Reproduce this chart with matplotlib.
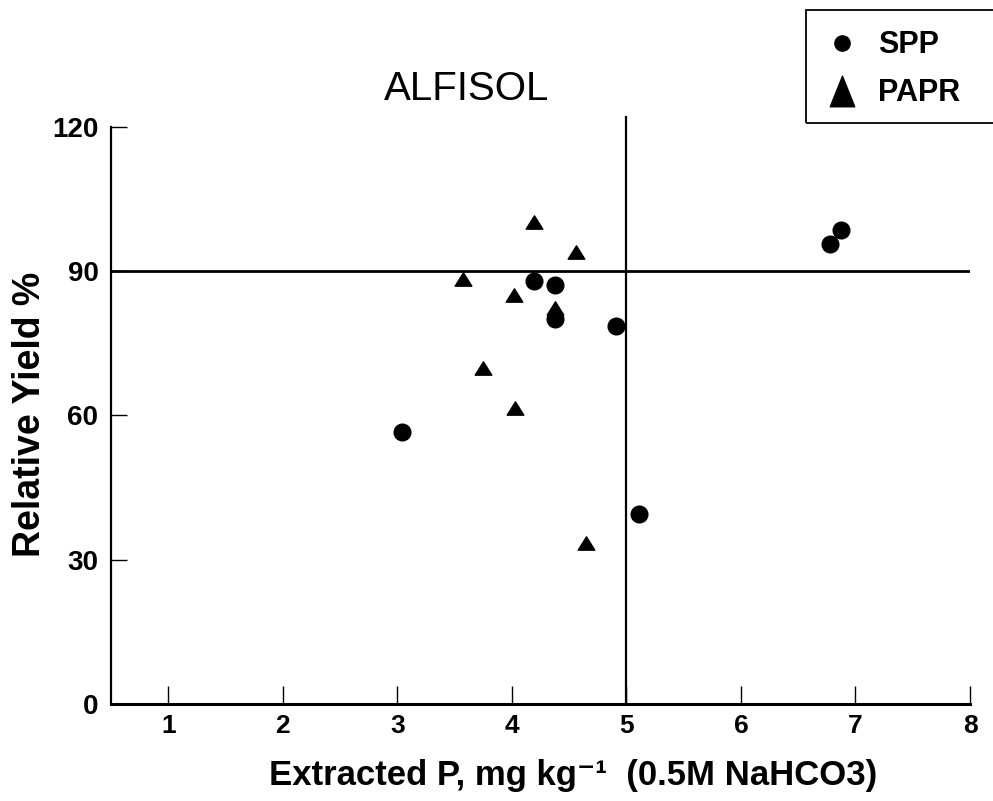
import matplotlib
matplotlib.use("Agg")
import matplotlib.pyplot as plt
from matplotlib import font_manager
from matplotlib.path import Path
from matplotlib.lines import Line2D
from matplotlib.patches import Rectangle

# ---- data ----
spp_x = [4.19, 4.38, 4.38, 4.91, 3.04, 5.11, 6.78, 6.87]
spp_y = [87.9, 87.0, 80.0, 78.5, 56.5, 39.5, 95.6, 98.6]
papr_x = [4.19, 4.56, 3.57, 4.02, 3.75, 4.03, 4.38, 4.65]
papr_y = [100.1, 94.0, 88.3, 85.1, 69.9, 61.5, 82.3, 33.4]
x_ticks = [1, 2, 3, 4, 5, 6, 7, 8]
y_ticks = [0, 30, 60, 90, 120]
critical_x = 5
critical_y = 90
series_labels = ["SPP", "PAPR"]
title_text = "ALFISOL"
x_label = "Extracted P, mg kg\u207b\u00b9  (0.5M NaHCO3)"
y_label = "Relative Yield %"

names = {f.name for f in font_manager.fontManager.ttflist}
narrow = "Liberation Sans Narrow" if "Liberation Sans Narrow" in names else "Liberation Sans"
plt.rcParams["font.family"] = ["Liberation Sans", "DejaVu Sans"]

W, H = 993, 801
fig = plt.figure(figsize=(W / 100, H / 100), dpi=100)
ax = fig.add_axes([111 / W, 1 - 704 / H, (970 - 111) / W, (704 - 126.7) / H])

tri = Path([(-1, -0.8), (1, -0.8), (0, 0.8), (-1, -0.8)],
           [Path.MOVETO, Path.LINETO, Path.LINETO, Path.CLOSEPOLY])
tri_leg = Path([(-0.8, -1), (0.8, -1), (0, 1), (-0.8, -1)],
               [Path.MOVETO, Path.LINETO, Path.LINETO, Path.CLOSEPOLY])

ax.plot(spp_x, spp_y, linestyle="none", marker="o", ms=12, color="black", zorder=3)
ax.plot(papr_x, papr_y, linestyle="none", marker=tri, ms=12, color="black", zorder=3)

ax.axhline(critical_y, color="black", lw=2.0, zorder=2)
ax.plot([critical_x, critical_x], [0, 122], color="black", lw=1.6, clip_on=False, zorder=2)

ax.set_xlim(0.5, 8.0)
ax.set_ylim(0, 120)
ax.set_xticks(x_ticks)
ax.set_yticks(y_ticks)
ax.spines["top"].set_visible(False)
ax.spines["right"].set_visible(False)
ax.spines["bottom"].set_linewidth(2.2)
ax.spines["left"].set_linewidth(1.6)
ax.tick_params(axis="x", direction="in", length=13, width=1.0, pad=7)
ax.tick_params(axis="y", direction="in", length=11.5, width=1.0, pad=9)
for lab in ax.get_xticklabels():
    lab.set_fontfamily(narrow)
    lab.set_fontweight("bold")
    lab.set_fontsize(19)
for lab in ax.get_yticklabels():
    lab.set_fontweight("bold")
    lab.set_fontsize(20)

fig.text(467 / W, 1 - 89 / H, title_text, ha="center", va="center", fontsize=29)
fig.text(30 / W, 1 - 414 / H, y_label, ha="center", va="center", rotation=90,
         fontsize=27, fontweight="bold")
fig.text(573 / W, 1 - 775 / H, x_label, ha="center", va="center",
         fontsize=25, fontweight="bold", family=[narrow, "DejaVu Sans"])

handles = [Line2D([], [], linestyle="none", marker="o", ms=11, color="black"),
           Line2D([], [], linestyle="none", marker=tri_leg, ms=22, color="black")]
leg = ax.legend(handles, series_labels, loc="upper left",
                bbox_to_anchor=(806 / W, 1 - 15 / H), bbox_transform=fig.transFigure,
                frameon=False, borderaxespad=0, borderpad=0.5,
                handlelength=1.35, handletextpad=0.5, labelspacing=0.59,
                prop={"weight": "bold", "size": 22, "family": "Liberation Sans"})
fig.patches.append(Rectangle((806 / W, 1 - 123 / H), 200 / W, 113 / H,
                             transform=fig.transFigure, fill=False,
                             edgecolor="black", linewidth=1.3, clip_on=False))

fig.savefig("out.png", dpi=100)
